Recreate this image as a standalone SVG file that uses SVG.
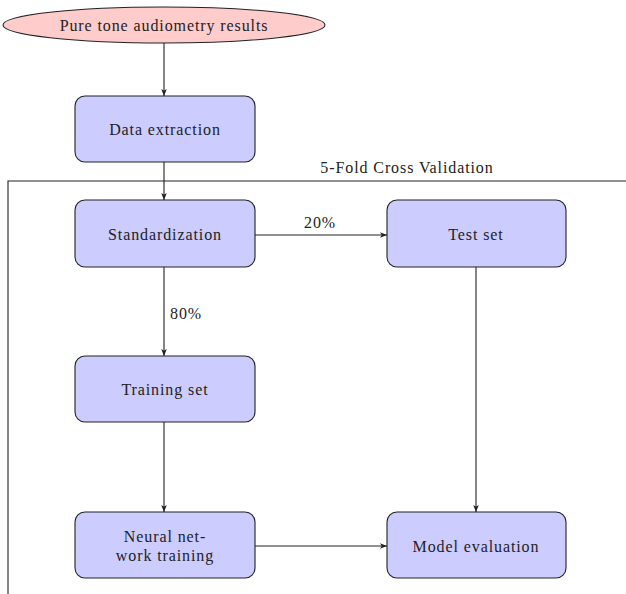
<svg xmlns="http://www.w3.org/2000/svg" width="626" height="594" viewBox="0 0 626 594">
<style>
.box{fill:#ccccff;stroke:#222;stroke-width:1.1}
.ell{fill:#ffcccc;stroke:#222;stroke-width:1.1}
.lbl{font-family:"Liberation Serif","DejaVu Serif",serif;font-size:16px;letter-spacing:0.9px;fill:#222;text-anchor:middle;dominant-baseline:central}
.edge{stroke:#222;stroke-width:1.1;fill:none;marker-end:url(#arr)}
.frame{stroke:#222;stroke-width:1.1;fill:none}
</style>
<defs>
<marker id="arr" viewBox="0 0 10 10" refX="10" refY="5" markerWidth="7" markerHeight="7" orient="auto" markerUnits="userSpaceOnUse">
<path d="M0,1 L10,5 L0,9 L2.5,5 Z" fill="#222"/>
</marker>
</defs>
<rect width="626" height="594" fill="#fff"/>
<g id="frame">
<path class="frame" d="M8,594 L8,181 L626,181"/>
<text class="lbl" x="407" y="167">5-Fold Cross Validation</text>
</g>
<g id="connectors">
<line class="edge" x1="164" y1="43" x2="164" y2="96"/>
<line class="edge" x1="164" y1="162" x2="164" y2="200"/>
<line class="edge" x1="255" y1="235" x2="387" y2="235"/>
<text class="lbl" x="320" y="222">20%</text>
<line class="edge" x1="164" y1="267" x2="164" y2="356"/>
<text class="lbl" x="186" y="313">80%</text>
<line class="edge" x1="164" y1="422" x2="164" y2="512"/>
<line class="edge" x1="476" y1="267" x2="476" y2="512"/>
<line class="edge" x1="255" y1="546" x2="387" y2="546"/>
</g>
<g id="pure-tone">
<ellipse class="ell" cx="164" cy="25" rx="161" ry="18"/>
<text class="lbl" x="164" y="25">Pure tone audiometry results</text>
</g>
<g id="data-extraction">
<rect class="box" x="75" y="96" width="180" height="66" rx="10"/>
<text class="lbl" x="165" y="129">Data extraction</text>
</g>
<g id="standardization">
<rect class="box" x="75" y="200" width="180" height="67" rx="10"/>
<text class="lbl" x="165" y="234">Standardization</text>
</g>
<g id="test-set">
<rect class="box" x="387" y="200" width="179" height="67" rx="10"/>
<text class="lbl" x="476" y="234">Test set</text>
</g>
<g id="training-set">
<rect class="box" x="75" y="356" width="180" height="66" rx="10"/>
<text class="lbl" x="165" y="389">Training set</text>
</g>
<g id="neural-net">
<rect class="box" x="75" y="512" width="180" height="66" rx="10"/>
<text class="lbl" x="165" y="536">Neural net-</text>
<text class="lbl" x="165" y="555">work training</text>
</g>
<g id="model-evaluation">
<rect class="box" x="387" y="512" width="179" height="66" rx="10"/>
<text class="lbl" x="476" y="546">Model evaluation</text>
</g>
</svg>
